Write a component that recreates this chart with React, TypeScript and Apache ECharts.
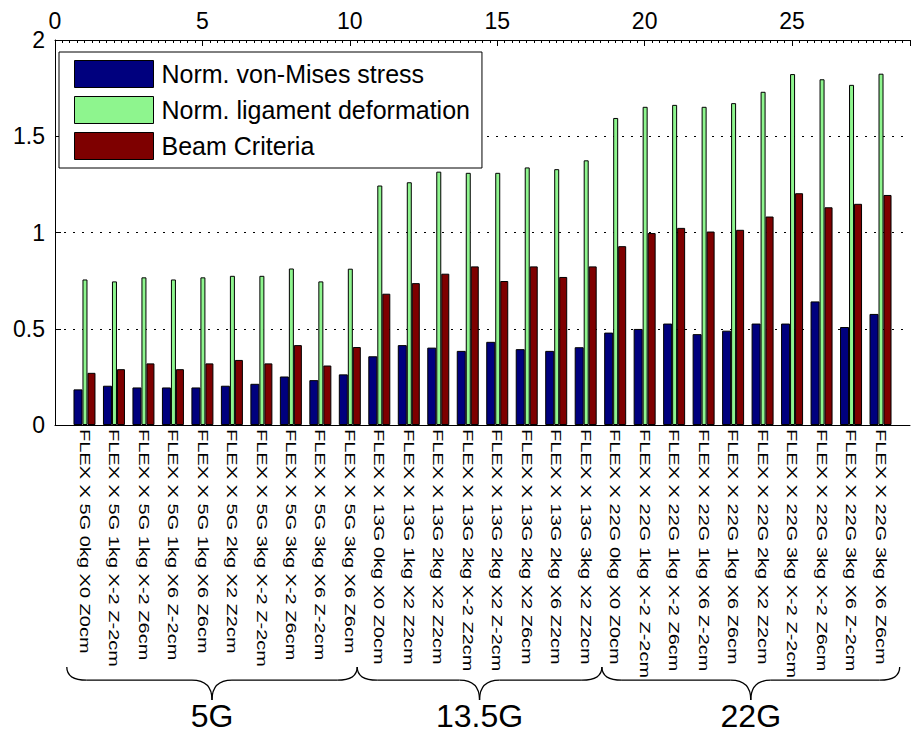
import React, { useEffect, useRef } from "react";
import * as echarts from "echarts";

// Load cases, in plotting order (positions 1..28 on the numeric top axis)
const categories = [
  "FLEX X 5G 0kg X0 Z0cm",
  "FLEX X 5G 1kg X-2 Z-2cm",
  "FLEX X 5G 1kg X-2 Z6cm",
  "FLEX X 5G 1kg X6 Z-2cm",
  "FLEX X 5G 1kg X6 Z6cm",
  "FLEX X 5G 2kg X2 Z2cm",
  "FLEX X 5G 3kg X-2 Z-2cm",
  "FLEX X 5G 3kg X-2 Z6cm",
  "FLEX X 5G 3kg X6 Z-2cm",
  "FLEX X 5G 3kg X6 Z6cm",
  "FLEX X 13G 0kg X0 Z0cm",
  "FLEX X 13G 1kg X2 Z2cm",
  "FLEX X 13G 2kg X2 Z2cm",
  "FLEX X 13G 2kg X-2 Z2cm",
  "FLEX X 13G 2kg X2 Z-2cm",
  "FLEX X 13G 2kg X2 Z6cm",
  "FLEX X 13G 2kg X6 Z2cm",
  "FLEX X 13G 3kg X2 Z2cm",
  "FLEX X 22G 0kg X0 Z0cm",
  "FLEX X 22G 1kg X-2 Z-2cm",
  "FLEX X 22G 1kg X-2 Z6cm",
  "FLEX X 22G 1kg X6 Z-2cm",
  "FLEX X 22G 1kg X6 Z6cm",
  "FLEX X 22G 2kg X2 Z2cm",
  "FLEX X 22G 3kg X-2 Z-2cm",
  "FLEX X 22G 3kg X-2 Z6cm",
  "FLEX X 22G 3kg X6 Z-2cm",
  "FLEX X 22G 3kg X6 Z6cm",
];

const vonMises = [
  0.185, 0.204, 0.195, 0.195, 0.195, 0.204, 0.214, 0.252, 0.233, 0.263,
  0.357, 0.415, 0.402, 0.385, 0.432, 0.394, 0.385, 0.404,
  0.48, 0.499, 0.527, 0.472, 0.49, 0.527, 0.527, 0.642, 0.509, 0.577,
];

const ligament = [
  0.756, 0.746, 0.767, 0.756, 0.767, 0.775, 0.775, 0.813, 0.746, 0.812,
  1.244, 1.261, 1.316, 1.31, 1.31, 1.338, 1.329, 1.375,
  1.595, 1.653, 1.663, 1.653, 1.672, 1.731, 1.823, 1.796, 1.767, 1.825,
];

const beam = [
  0.271, 0.29, 0.32, 0.29, 0.32, 0.338, 0.32, 0.415, 0.309, 0.405,
  0.682, 0.737, 0.786, 0.824, 0.748, 0.824, 0.769, 0.824,
  0.929, 0.997, 1.024, 1.005, 1.014, 1.083, 1.204, 1.131, 1.149, 1.195,
];

const seriesNames = ["Norm. von-Mises stress", "Norm. ligament deformation", "Beam Criteria"];

// Acceleration groups, spanned in top-axis units
const groupNames = ["5G", "13.5G", "22G"];
const groupSpans = [
  [0.4, 10.25],
  [10.25, 18.55],
  [18.55, 28.65],
];

const FONT = "'Liberation Sans', Arial, Helvetica, sans-serif";
const COLORS = ["#00007e", "#8ef58e", "#7e0000"];
const BAR_WIDTHS = [9, 5, 8];

function braceElements(x0: number, x1: number, yTop: number, h: number) {
  const xm = (x0 + x1) / 2;
  const yMid = yTop + h * 0.4;
  const yBot = yTop + h;
  const r = 20;
  const style = { stroke: "#000", lineWidth: 1.3, fill: null };
  const curve = (ax: number, ay: number, cx: number, cy: number, bx: number, by: number) => ({
    type: "bezierCurve",
    shape: { x1: ax, y1: ay, cpx1: cx, cpy1: cy, x2: bx, y2: by },
    style,
    silent: true,
  });
  const line = (ax: number, ay: number, bx: number, by: number) => ({
    type: "line",
    shape: { x1: ax, y1: ay, x2: bx, y2: by },
    style,
    silent: true,
  });
  return [
    curve(x0, yTop, x0, yMid, x0 + r, yMid),
    line(x0 + r, yMid, xm - r, yMid),
    curve(xm - r, yMid, xm, yMid, xm, yBot),
    curve(xm, yBot, xm, yMid, xm + r, yMid),
    line(xm + r, yMid, x1 - r, yMid),
    curve(x1 - r, yMid, x1, yMid, x1, yTop),
  ];
}

export default function App() {
  const ref = useRef<HTMLDivElement>(null);

  useEffect(() => {
    document.body.style.margin = "0";
    if (!ref.current) return;
    const chart = echarts.init(ref.current, null, { renderer: "svg" });

    const pad = (arr: number[]) => [null, ...arr, null];
    const seriesData = [vonMises, ligament, beam];

    chart.setOption({
      animation: false,
      backgroundColor: "#fff",
      textStyle: { fontFamily: FONT },
      grid: { left: 55, top: 40, right: -6, bottom: 311, containLabel: false },
      legend: {
        show: true,
        data: seriesNames,
        left: 59,
        top: 52,
        orient: "vertical",
        icon: "rect",
        itemWidth: 79,
        itemHeight: 27,
        itemGap: 8,
        padding: [8, 12, 8, 15],
        backgroundColor: "#fff",
        borderColor: "#000",
        borderWidth: 1,
        borderRadius: 0,
        selectedMode: false,
        itemStyle: { borderColor: "#000", borderWidth: 1 },
        textStyle: { fontSize: 25, color: "#000", fontFamily: FONT, lineHeight: 27, padding: [0, 0, 0, 3] },
      },
      xAxis: [
        {
          type: "category",
          position: "bottom",
          data: ["", ...categories, ""],
          boundaryGap: false,
          axisLine: { show: true, lineStyle: { color: "#000", width: 1 } },
          axisTick: { show: false },
          splitLine: { show: false },
          // tick labels are drawn below as stretched, rotated texts
          axisLabel: { show: false },
        },
        {
          type: "value",
          position: "top",
          min: 0,
          max: 29,
          interval: 5,
          axisLine: { show: true, lineStyle: { color: "#000", width: 1 } },
          axisTick: { show: true, inside: true, length: 6, lineStyle: { color: "#000" } },
          minorTick: { show: true, splitNumber: 20, length: 3, lineStyle: { color: "#000" } },
          splitLine: { show: false },
          axisLabel: {
            margin: 8,
            fontSize: 23,
            color: "#000",
            fontFamily: FONT,
            formatter: (v: number) => (v % 5 === 0 ? String(v) : ""),
          },
        },
      ],
      yAxis: {
        type: "value",
        min: 0,
        max: 2,
        interval: 0.5,
        axisLine: { show: true, lineStyle: { color: "#000", width: 1 } },
        axisTick: { show: true, inside: true, length: 6, lineStyle: { color: "#000" } },
        splitLine: { show: true, lineStyle: { color: "#000", type: [2, 7], width: 1.2 } },
        axisLabel: {
          margin: 10,
          fontSize: 23,
          color: "#000",
          fontFamily: FONT,
          formatter: (v: number) => String(v),
        },
      },
      series: seriesNames.map((name, i) => ({
        name,
        type: "bar",
        xAxisIndex: 0,
        yAxisIndex: 0,
        data: pad(seriesData[i]),
        barWidth: BAR_WIDTHS[i],
        barGap: "0%",
        itemStyle: { color: COLORS[i], borderColor: "#000", borderWidth: 1 },
      })),
    });

    const graphics: any[] = [];

    // Case names under each bar group, reading downwards, stretched along the text
    const baseY = chart.convertToPixel({ yAxisIndex: 0 }, 0) as number;
    categories.forEach((name, i) => {
      const px = chart.convertToPixel({ xAxisIndex: 1 }, i + 1) as number;
      graphics.push({
        type: "text",
        x: px,
        y: baseY + 4,
        rotation: -Math.PI / 2,
        scaleX: 1.43,
        scaleY: 1,
        silent: true,
        style: {
          text: name,
          fill: "#000",
          font: `14px ${FONT}`,
          align: "left",
          verticalAlign: "middle",
        },
      });
    });

    // Braces and group names under the tick labels, placed via the top axis scale
    groupSpans.forEach(([a, b], gi) => {
      const x0 = chart.convertToPixel({ xAxisIndex: 1 }, a) as number;
      const x1 = chart.convertToPixel({ xAxisIndex: 1 }, b) as number;
      graphics.push(...braceElements(x0, x1, 667, 33));
      graphics.push({
        type: "text",
        x: (x0 + x1) / 2,
        y: 716,
        silent: true,
        style: {
          text: groupNames[gi],
          fill: "#000",
          font: `32px ${FONT}`,
          align: "center",
          verticalAlign: "middle",
        },
      });
    });
    chart.setOption({ graphic: graphics });

    return () => chart.dispose();
  }, []);

  return <div ref={ref} style={{ width: 913, height: 736 }} />;
}
